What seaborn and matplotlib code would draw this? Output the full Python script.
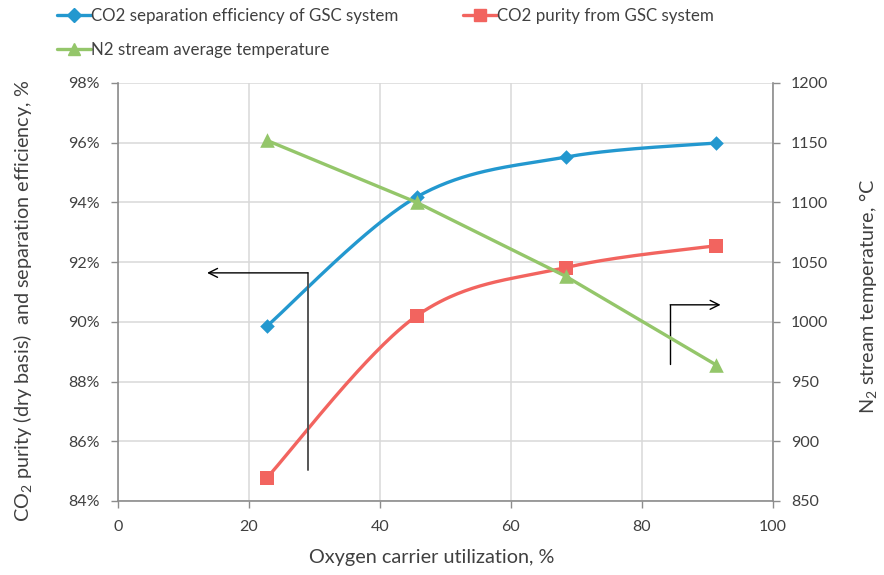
import numpy as np
import pandas as pd
import matplotlib
matplotlib.use("Agg")
import matplotlib.pyplot as plt
from matplotlib.lines import Line2D
import seaborn as sns

# Oxygen carrier utilization (%)
utilization = [22.7, 45.6, 68.4, 91.3]
# CO2 separation efficiency of GSC system (%)
separation_eff = [89.85, 94.18, 95.52, 95.99]
# CO2 purity from GSC system, dry basis (%)
co2_purity = [84.77, 90.20, 91.82, 92.55]
# N2 stream average temperature (degC)
n2_temp = [1152, 1100, 1038, 964]

x_ticks = [0, 20, 40, 60, 80, 100]
left_ticks = [84, 86, 88, 90, 92, 94, 96, 98]
right_ticks = [850, 900, 950, 1000, 1050, 1100, 1150, 1200]

BLUE = "#2398cf"
RED = "#f2645f"
GREEN = "#94c66a"
TEXT = "#404040"
SPINE = "#8c8c8c"
GRID = "#d9d9d9"


def smooth_curve(x, y, n=60):
    """Bezier smoothing through every point (Catmull-Rom style)."""
    pts = np.column_stack([x, y]).astype(float)
    P = np.vstack([pts[0], pts, pts[-1]])
    segs = []
    t = np.linspace(0, 1, n)[:, None]
    for i in range(1, len(P) - 2):
        p0, p1, p2, p3 = P[i - 1], P[i], P[i + 1], P[i + 2]
        c1 = p1 + (p2 - p0) / 6.0
        c2 = p2 - (p3 - p1) / 6.0
        b = (1 - t) ** 3 * p1 + 3 * (1 - t) ** 2 * t * c1 + 3 * (1 - t) * t ** 2 * c2 + t ** 3 * p2
        segs.append(b if i == 1 else b[1:])
    out = np.vstack(segs)
    return pd.DataFrame({"x": out[:, 0], "y": out[:, 1]})


sns.set_theme(style="white")
plt.rcParams["font.family"] = ["Lato", "DejaVu Sans"]
plt.rcParams["mathtext.fontset"] = "custom"
plt.rcParams["mathtext.rm"] = "Lato"
plt.rcParams["mathtext.it"] = "Lato"

fig = plt.figure(figsize=(8.84, 5.75), dpi=100)
ax = fig.add_axes([0.1335, 0.1287, 0.7409, 0.727])
ax2 = ax.twinx()

# smoothed efficiency and purity curves on the left axis
sep_df = smooth_curve(utilization, separation_eff)
pur_df = smooth_curve(utilization, co2_purity)
sns.lineplot(data=sep_df, x="x", y="y", ax=ax, color=BLUE, lw=2.4, sort=False, zorder=3)
sns.lineplot(data=pur_df, x="x", y="y", ax=ax, color=RED, lw=2.4, sort=False, zorder=3)
sns.scatterplot(x=utilization, y=separation_eff, ax=ax, marker="D", s=55, color=BLUE,
                edgecolor=BLUE, linewidth=0, zorder=4)
sns.scatterplot(x=utilization, y=co2_purity, ax=ax, marker="s", s=100, color=RED,
                edgecolor=RED, linewidth=0, zorder=4)

# temperature on the right axis (straight segments)
temp_df = pd.DataFrame({"x": utilization, "y": n2_temp})
sns.lineplot(data=temp_df, x="x", y="y", ax=ax2, color=GREEN, lw=2.4, zorder=3)
sns.scatterplot(data=temp_df, x="x", y="y", ax=ax2, marker="^", s=110, color=GREEN,
                edgecolor=GREEN, linewidth=0, zorder=4)

ax.set_xlim(0, 100)
ax.set_ylim(84, 98)
ax2.set_ylim(850, 1200)
ax.set_xticks(x_ticks)
ax.set_yticks(left_ticks)
ax.set_yticklabels([f"{v}%" for v in left_ticks])
ax2.set_yticks(right_ticks)
ax.set_xlabel("")
ax.set_ylabel("")
ax2.set_ylabel("")

ax.grid(True, color=GRID, lw=1.1, zorder=0)
ax.set_axisbelow(True)
for a in (ax, ax2):
    a.spines["top"].set_visible(False)
    for side in ("left", "right", "bottom"):
        a.spines[side].set_color(SPINE)
        a.spines[side].set_linewidth(1.2)
ax.spines["right"].set_visible(False)
ax2.spines["left"].set_visible(False)
ax2.spines["bottom"].set_visible(False)

ax.tick_params(axis="both", which="major", direction="out", length=5, width=1,
               color=SPINE, labelsize=11.5, labelcolor=TEXT)
ax.tick_params(axis="y", pad=8)
ax.tick_params(axis="x", pad=9)
ax2.tick_params(axis="y", direction="out", length=5, width=1, color=SPINE,
                labelsize=11.5, labelcolor=TEXT, pad=8)
ax.tick_params(left=True, bottom=True)
ax2.tick_params(right=True)

fig.text(0.4887, 0.03, "Oxygen carrier utilization, %", ha="center", va="center",
         fontsize=14.3, color=TEXT)
fig.text(0.026, 0.477, "CO$_2$ purity (dry basis)  and separation efficiency, %",
         rotation=90, ha="center", va="center", fontsize=14.3, color=TEXT)
fig.text(0.982, 0.485, "N$_2$ stream temperature, °C", rotation=90,
         ha="center", va="center", fontsize=14.3, color=TEXT)

# direction pointers to each axis
ax.plot([29.0, 29.0], [85.05, 91.64], color="#555555", lw=1.4, zorder=5)
ax.annotate("", xy=(13.6, 91.64), xytext=(29.0, 91.64),
            arrowprops=dict(arrowstyle="->", color="black", lw=1.0,
                            mutation_scale=16, shrinkA=0, shrinkB=0), zorder=5)
ax.plot([84.3, 84.3], [88.6, 90.57], color="black", lw=1.0, zorder=5)
ax.annotate("", xy=(92.0, 90.57), xytext=(84.3, 90.57),
            arrowprops=dict(arrowstyle="->", color="black", lw=1.0,
                            mutation_scale=16, shrinkA=0, shrinkB=0), zorder=5)

handles = [
    Line2D([0], [0], color=BLUE, lw=2.4, marker="D", markersize=7),
    Line2D([0], [0], color=GREEN, lw=2.4, marker="^", markersize=9),
    Line2D([0], [0], color=RED, lw=2.4, marker="s", markersize=9),
]
labels = ["CO2 separation efficiency of GSC system",
          "N2 stream average temperature",
          "CO2 purity from GSC system"]
fig.legend(handles, labels, loc="upper left", bbox_to_anchor=(0.047, 1.012), ncol=2,
           frameon=False, fontsize=12.2, handlelength=2.0, handletextpad=0.0,
           columnspacing=3.85, labelspacing=1.05, labelcolor=TEXT)

fig.savefig("out.png", dpi=100)
